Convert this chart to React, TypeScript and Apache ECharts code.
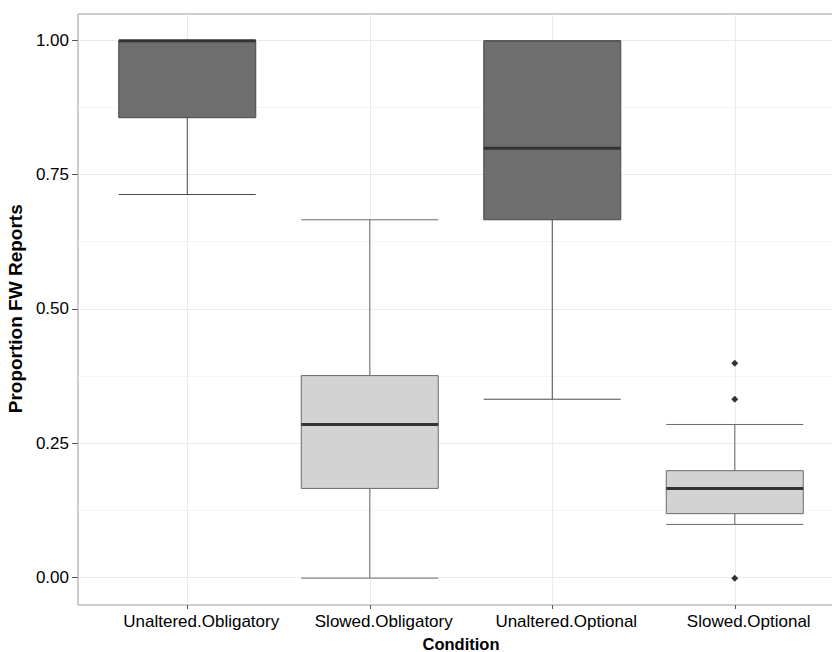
import React, { useEffect, useRef } from "react";
import * as echarts from "echarts";

const categories = ["Unaltered.Obligatory", "Slowed.Obligatory", "Unaltered.Optional", "Slowed.Optional"];
// [lower whisker, Q1, median, Q3, upper whisker]
const boxStats = [
  [0.714, 0.857, 1.0, 1.0, 1.0],
  [0.0, 0.167, 0.286, 0.377, 0.667],
  [0.333, 0.667, 0.8, 1.0, 1.0],
  [0.1, 0.12, 0.167, 0.2, 0.286],
];
const boxFills = ["#6e6e6e", "#d3d3d3", "#6e6e6e", "#d3d3d3"];
const outliers = [
  ["Slowed.Optional", 0.4],
  ["Slowed.Optional", 0.333],
  ["Slowed.Optional", 0.0],
];
const yTicks = [0, 0.25, 0.5, 0.75, 1.0];

const FONT = "'Liberation Sans', Arial, Helvetica, sans-serif";

export default function App() {
  const ref = useRef<HTMLDivElement>(null);
  useEffect(() => {
    if (!ref.current) return;
    const chart = echarts.init(ref.current, undefined, { renderer: "svg" });
    chart.setOption({
      animation: false,
      backgroundColor: "#ffffff",
      grid: [
        { left: 78, top: 14, right: -13, bottom: 47, show: true, borderColor: "#9a9a9a", borderWidth: 1, backgroundColor: "transparent", outerBoundsMode: "none", containLabel: false },
        { left: 78, top: 40.3, right: -13, height: 537, outerBoundsMode: "none", containLabel: false },
        { left: 96, top: 14, width: 730, bottom: 47, outerBoundsMode: "none", containLabel: false },
      ],
      xAxis: [
        { type: "value", gridIndex: 0, show: false, min: 0, max: 1 },
        { type: "value", gridIndex: 1, show: false, min: 0, max: 1 },
        {
          type: "category",
          gridIndex: 2,
          data: categories,
          boundaryGap: true,
          axisLine: { show: false, onZero: false },
          axisTick: { show: true, alignWithLabel: true, length: 4, lineStyle: { color: "#555" }, interval: 0 },
          axisLabel: { interval: 0, fontSize: 17, color: "#000", fontFamily: FONT, margin: 8, padding: [0, 0, 0, 28] },
          splitLine: { show: true, alignWithLabel: true, interval: 0, lineStyle: { color: "#ebebeb", width: 1 } },
          name: "Condition",
          nameLocation: "middle",
          nameGap: 30,
          nameTextStyle: { fontSize: 16.5, fontWeight: "bold", color: "#000", fontFamily: FONT },
        },
        {
          type: "category",
          gridIndex: 2,
          data: categories,
          boundaryGap: true,
          show: false,
          axisLine: { onZero: false },
        },
      ],
      yAxis: [
        { type: "value", gridIndex: 0, show: false, min: 0, max: 1 },
        {
          type: "value",
          gridIndex: 1,
          min: 0,
          max: 1,
          interval: 0.25,
          axisLine: { show: false },
          axisTick: { show: true, length: 6, lineStyle: { color: "#555" } },
          axisLabel: {
            fontSize: 17,
            color: "#000",
            fontFamily: FONT,
            margin: 9,
            formatter: (v: number) => (yTicks.some((t) => Math.abs(t - v) < 1e-9) ? v.toFixed(2) : ""),
          },
          splitLine: { show: true, lineStyle: { color: "#ebebeb", width: 1 } },
          minorTick: { show: false, splitNumber: 2 },
          minorSplitLine: { show: true, lineStyle: { color: "#f5f5f5", width: 1 } },
          name: "Proportion FW Reports",
          nameLocation: "middle",
          nameGap: 50,
          nameTextStyle: { fontSize: 19, fontWeight: "bold", color: "#000", fontFamily: FONT },
        },
        { type: "value", gridIndex: 2, show: false, min: -0.05, max: 1.05 },
      ],
      series: [
        {
          type: "boxplot",
          xAxisIndex: 2,
          yAxisIndex: 2,
          boxWidth: [137, 137],
          data: boxStats.map((v, i) => ({
            value: v,
            itemStyle: { color: boxFills[i], borderColor: i % 2 === 0 ? "#4a4a4a" : "#6a6a6a", borderWidth: 1 },
          })),
          z: 3,
        },
        {
          type: "boxplot",
          xAxisIndex: 3,
          yAxisIndex: 2,
          boxWidth: [137, 137],
          data: boxStats.map((v) => ({
            value: [v[2], v[2], v[2], v[2], v[2]],
            itemStyle: { color: "transparent", borderColor: "#333333", borderWidth: 3 },
          })),
          z: 4,
        },
        {
          type: "scatter",
          xAxisIndex: 2,
          yAxisIndex: 2,
          symbol: "diamond",
          symbolSize: 7,
          itemStyle: { color: "#000" },
          data: outliers,
          z: 5,
        },
      ],
    });
    return () => chart.dispose();
  }, []);
  return <div ref={ref} style={{ position: "fixed", left: 0, top: 0, width: 832, height: 652 }} />;
}
